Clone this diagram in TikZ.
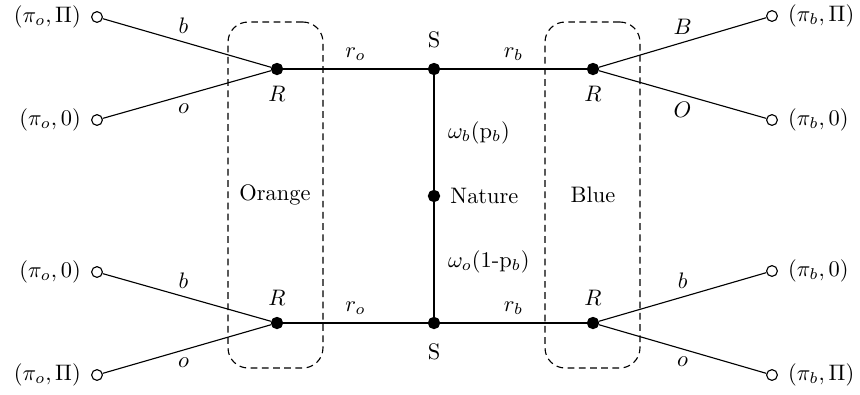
\documentclass[tikz,border=0pt]{standalone}
\begin{document}
\begin{tikzpicture}[x=0.446pt,y=-0.446pt,line width=0.5pt,
  dot/.style={circle,fill=black,draw=black,inner sep=0pt,minimum size=5pt},
  term/.style={circle,fill=white,draw=black,inner sep=0pt,minimum size=4.8pt},
  grp/.style={draw,dash pattern=on 3pt off 2pt,rounded corners=9pt},
  lab/.style={font=\normalsize}]
\useasboundingbox (0,0) rectangle (860,394);
% group boxes
\node[grp,minimum width=95*0.446pt,minimum height=346*0.446pt] (orangebox) at (275.5,195) {};
\node[grp,minimum width=95*0.446pt,minimum height=346*0.446pt] (bluebox) at (592.5,195) {};
\node (orange) at (275,195) {Orange};
\node (blue) at (593,195) {Blue};
% main nodes
\node[dot,label={[label distance=1.5pt]below:$R$}] (RLt) at (277,69) {};
\node[dot,label={[label distance=3pt]above:S}] (St) at (434,69) {};
\node[dot,label={[label distance=1.5pt]below:$R$}] (RRt) at (593,69) {};
\node[dot,label={[label distance=1.5pt]above:$R$}] (RLb) at (277,323) {};
\node[dot,label={[label distance=3pt]below:S}] (Sb) at (434,323) {};
\node[dot,label={[label distance=1.5pt]above:$R$}] (RRb) at (593,323) {};
\node[dot,label={[label distance=1pt]right:Nature}] (N) at (434,196) {};
% terminals
\node[term,label={[label distance=1pt]left:$(\pi_o,\Pi)$}] (T1) at (97,17) {};
\node[term,label={[label distance=1pt]left:$(\pi_o,0)$}] (T2) at (97,120) {};
\node[term,label={[label distance=1pt]left:$(\pi_o,0)$}] (T3) at (97,272) {};
\node[term,label={[label distance=1pt]left:$(\pi_o,\Pi)$}] (T4) at (97,375) {};
\node[term,label={[label distance=1pt]right:$(\pi_b,\Pi)$}] (T5) at (772,16) {};
\node[term,label={[label distance=1pt]right:$(\pi_b,0)$}] (T6) at (772,120) {};
\node[term,label={[label distance=1pt]right:$(\pi_b,0)$}] (T7) at (772,271) {};
\node[term,label={[label distance=1pt]right:$(\pi_b,\Pi)$}] (T8) at (772,375) {};
% edges
\draw (T1) -- node[above,pos=0.48] {$b$} (RLt);
\draw (T2) -- node[below,pos=0.48] {$o$} (RLt);
\draw (T3) -- node[above,pos=0.48] {$b$} (RLb);
\draw (T4) -- node[below,pos=0.48] {$o$} (RLb);
\draw (RRt) -- node[above,pos=0.5] {$B$} (T5);
\draw (RRt) -- node[below,pos=0.5] {$O$} (T6);
\draw (RRb) -- node[above,pos=0.5] {$b$} (T7);
\draw (RRb) -- node[below,pos=0.5] {$o$} (T8);
\draw (RLt) -- node[above] {$r_o$} (St);
\draw (St) -- node[above] {$r_b$} (RRt);
\draw (RLb) -- node[above] {$r_o$} (Sb);
\draw (Sb) -- node[above] {$r_b$} (RRb);
\draw (St) -- (N);
\draw (N) -- (Sb);
\node[anchor=west] (wb) at (440,133) {$\omega_b(\mathrm{p}_b)$};
\node[anchor=west] (wo) at (440,262) {$\omega_o$(1-$\mathrm{p}_b$)};
\end{tikzpicture}
\end{document}
